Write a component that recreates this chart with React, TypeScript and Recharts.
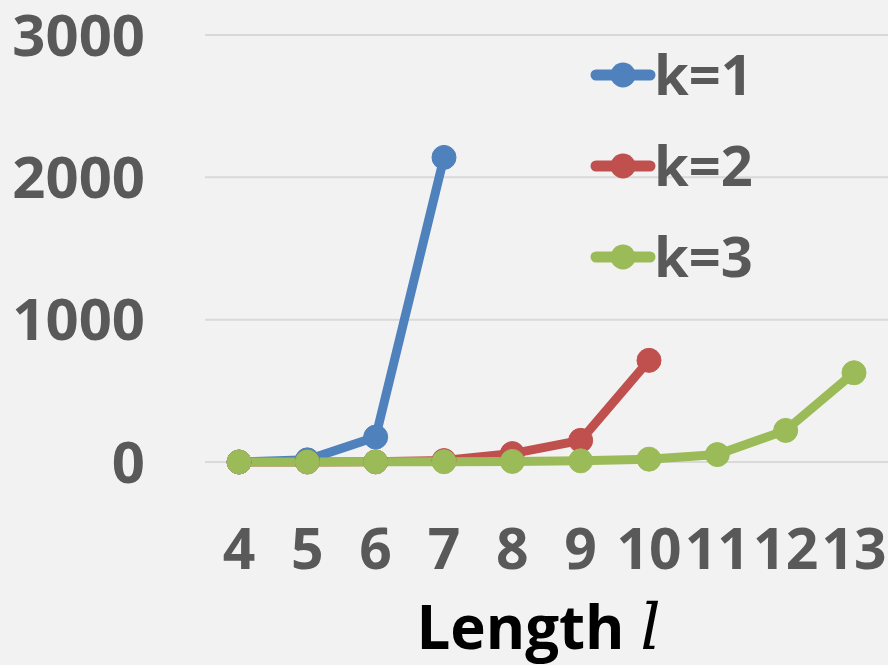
import React from "react";
import { LineChart, Line, XAxis, YAxis, CartesianGrid, Legend, Label } from "recharts";

// Path lengths l on the x axis
const lengths = ["4", "5", "6", "7", "8", "9", "10", "11", "12", "13"];
// Counts for each k (null where no value exists)
const k1Values: (number | null)[] = [0, 15, 175, 2140, null, null, null, null, null, null];
const k2Values: (number | null)[] = [0, 0, 1, 10, 59, 152, 714, null, null, null];
const k3Values: (number | null)[] = [0, 0, 1, 2, 4, 8, 20, 52, 222, 627];
const yTicks = [0, 1000, 2000, 3000];

const seriesNames = ["k=1", "k=2", "k=3"];
const seriesColors = ["#4F81BD", "#C0504D", "#9BBB59"];

const data = lengths.map((l, i) => ({
  l,
  s1: k1Values[i],
  s2: k2Values[i],
  s3: k3Values[i],
}));

const FONT = "'Open Sans', 'DejaVu Sans', sans-serif";
const GRAY = "#595959";

const renderLegend = (props: any) => {
  const payload = props.payload || [];
  return (
    <svg width={240} height={250} style={{ display: "block", overflow: "visible" }}>
      {payload.map((entry: any, i: number) => {
        const cy = 40 + i * 91;
        return (
          <g key={entry.value}>
            <line x1={18} x2={72} y1={cy} y2={cy} stroke={entry.color} strokeWidth={11} strokeLinecap="round" />
            <circle cx={45} cy={cy} r={12.5} fill={entry.color} />
            <text x={76} y={cy} dy="0.36em" fontFamily={FONT} fontWeight={700} fontSize={56} fill={GRAY}>
              {entry.value}
            </text>
          </g>
        );
      })}
    </svg>
  );
};

const AxisTitle = (props: any) => {
  const vb = props.viewBox || { x: 0, y: 0, width: 0, height: 0 };
  const cx = vb.x + vb.width / 2 - 8;
  return (
    <text x={cx} y={vb.y + 187} textAnchor="middle" fontFamily={FONT} fontWeight={700} fontSize={60} fill="#000">
      <tspan>Length </tspan>
      <tspan fontFamily="'DejaVu Serif', 'Liberation Serif', serif" fontStyle="italic" fontWeight={400} fontSize={64}>
        l
      </tspan>
    </text>
  );
};

export default function App() {
  return (
    <div style={{ position: "absolute", left: 0, top: 0, width: 888, height: 665, background: "#F2F2F2" }}>
      <LineChart width={888} height={665} data={data} margin={{ top: 35, right: 0, left: 0, bottom: 0 }}>
        <CartesianGrid vertical={false} stroke="#D9D9D9" strokeWidth={2} />
        <XAxis
          dataKey="l"
          interval={0}
          height={203}
          axisLine={false}
          tickLine={false}
          tickSize={0}
          tickMargin={67}
          padding={{ left: 34, right: 34 }}
          tick={{ fontFamily: FONT, fontWeight: 700, fontSize: 57, fill: GRAY }}
        >
          <Label content={<AxisTitle />} />
        </XAxis>
        <YAxis
          width={205}
          domain={[0, 3000]}
          ticks={yTicks}
          interval={0}
          axisLine={false}
          tickLine={false}
          tickSize={0}
          tickMargin={60}
          tick={{ fontFamily: FONT, fontWeight: 700, fontSize: 58, fill: GRAY }}
        />
        <Legend
          layout="horizontal"
          verticalAlign="middle"
          align="center"
          content={renderLegend}
          wrapperStyle={{ position: "absolute", left: 578, top: 35, width: 240, height: 250 }}
        />
        {["s1", "s2", "s3"].map((key, i) => (
          <Line
            key={key}
            dataKey={key}
            name={seriesNames[i]}
            stroke={seriesColors[i]}
            strokeWidth={9}
            dot={{ r: 12, fill: seriesColors[i], stroke: seriesColors[i], strokeWidth: 1 }}
            activeDot={false}
            connectNulls={false}
            isAnimationActive={false}
          />
        ))}
      </LineChart>
    </div>
  );
}
